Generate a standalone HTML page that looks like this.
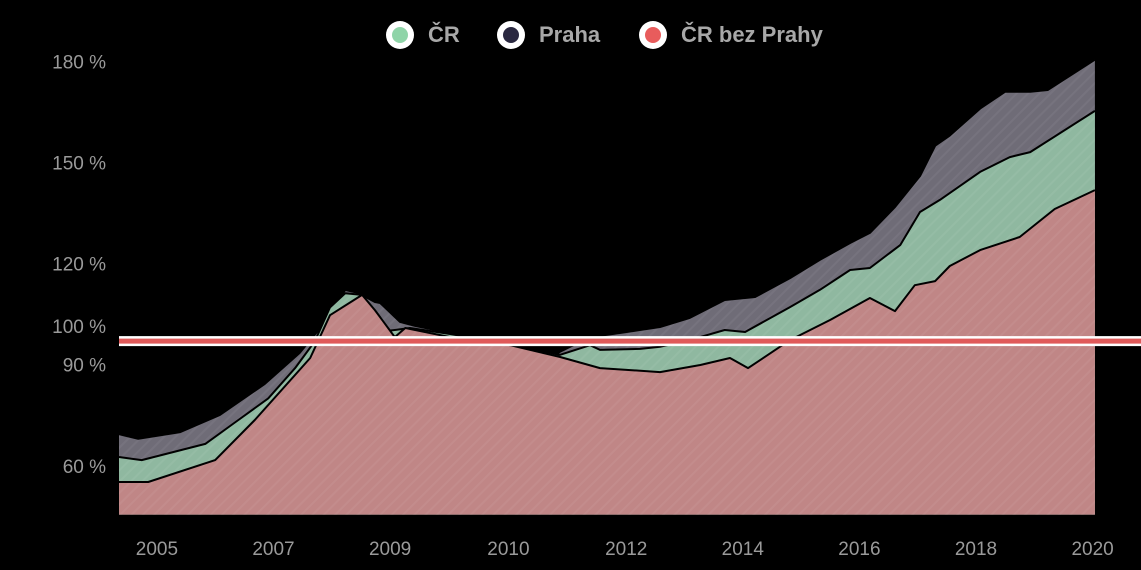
<!DOCTYPE html>
<html><head><meta charset="utf-8"><style>
body{margin:0;background:#000;width:1141px;height:570px;overflow:hidden;font-family:"Liberation Sans",sans-serif}
svg{display:block}
</style></head><body>
<svg id="chart" width="1141" height="570" viewBox="0 0 1141 570">
<defs>
<pattern id="stripes" width="8" height="8" patternUnits="userSpaceOnUse" patternTransform="rotate(45)">
<rect width="8" height="8" fill="transparent"/><rect width="2" height="8" fill="rgba(255,255,255,0.05)"/>
</pattern>
</defs>
<g id="yaxis"></g>
<g id="xaxis"></g>
<g id="areas"></g>
<g id="legend"></g>
</svg>
<script>
const prahaX=[0,0.33,1.05,1.73,2.5,3.1,3.41,3.88,4.1,4.39,4.48,4.82,5.08,5.59,6.11,7.05,7.48,7.56,8.08,8.59,9.28,9.79,10.39,10.91,11.51,12.02,12.54,12.88,13.31,13.74,14.0,14.25,14.77,15.2,15.63,15.93,16.74];
const prahaV=[69.4,68.0,70.0,75.1,84.3,93.5,100.0,112.2,111.3,108.6,108.3,102.7,101.5,99.7,97.9,94.5,92.5,93.8,98.2,99.4,101.2,103.9,109.2,110.1,115.7,121.1,126.1,129.1,136.8,146.0,155.0,158.0,166.0,171.0,171.0,171.5,180.5];
const crX=[0,0.39,1.48,2.0,2.56,3.02,3.36,3.62,3.88,4.17,4.43,4.73,4.99,5.68,6.71,7.56,8.08,8.25,8.94,9.28,9.79,10.39,10.74,11.51,12.02,12.54,12.88,13.4,13.74,14.08,14.77,15.28,15.63,16.74];
const crV=[62.6,61.7,66.5,73.0,80.0,89.0,97.0,107.0,111.2,110.7,99.7,100.3,100.9,99.1,96.1,92.9,95.8,94.4,94.7,95.3,97.3,100.3,99.7,107.1,112.2,118.1,118.7,125.5,135.3,138.9,147.2,151.6,153.1,165.3];
const restX=[0,0.5,1.65,2.33,3.28,3.62,4.17,4.39,4.73,4.91,5.68,6.71,7.56,8.25,9.28,9.97,10.48,10.79,11.51,12.2,12.88,13.31,13.65,14.0,14.25,14.77,15.45,16.05,16.74];
const restV=[55.2,55.2,61.7,73.6,92.0,104.7,110.7,106.2,98.2,100.9,98.2,95.8,92.3,89.0,87.8,89.9,92.0,89.0,97.3,103.3,109.8,105.9,113.6,114.8,119.3,124.0,127.9,136.2,141.8];
const yTicks=[60,90,100,120,150,180];
const xTickLabels=["2005","2007","2009","2010","2012","2014","2016","2018","2020"];
const xTickPos=[0.65,2.65,4.65,6.68,8.7,10.7,12.7,14.7,16.7];
const refValue=97;
const baseValue=45.5;

const NS="http://www.w3.org/2000/svg";
const X=u=>119+u*58.3;
const Y=v=>331-(v-100)*3.37;
function mk(t,a,p){const e=document.createElementNS(NS,t);for(const k in a)e.setAttribute(k,a[k]);p.appendChild(e);return e;}

const ya=document.getElementById('yaxis');
yTicks.forEach(v=>{const t=mk('text',{x:106,y:Y(v)+(v===100?2:7),'text-anchor':'end','font-size':19,fill:'#9a9a9a'},ya);


t.textContent=v+' %';});
const xa=document.getElementById('xaxis');
xTickLabels.forEach((l,i)=>{const t=mk('text',{x:X(xTickPos[i]),y:555,'text-anchor':'middle','font-size':19,fill:'#9a9a9a'},xa);


t.textContent=l;});

const ar=document.getElementById('areas');
function area(xs,vs,fill,name){
  let d='M'+X(xs[0])+','+Y(baseValue);
  xs.forEach((x,i)=>d+=' L'+X(x).toFixed(1)+','+Y(vs[i]).toFixed(1));
  d+=' L'+X(xs[xs.length-1])+','+Y(baseValue)+' Z';
  const p=mk('path',{d:d,fill:fill},ar);
  
  
  mk('path',{d:d,fill:'url(#stripes)'},ar);
  let l='M'+xs.map((x,i)=>X(x).toFixed(1)+','+Y(vs[i]).toFixed(1)).join(' L');
  const s=mk('path',{d:l,fill:'none',stroke:'#000','stroke-width':2,'stroke-linejoin':'round'},ar);
  
  
}
area(prahaX,prahaV,'#6f6c77','area-praha');
area(crX,crV,'#8fb8a0','area-cr');
area(restX,restV,'#c08686','area-cr-bez-prahy');
const ry=Y(refValue);
const rb=mk('rect',{x:119,y:ry-5,width:1022,height:10,fill:'#fff'},ar);


const rl=mk('rect',{x:119,y:ry-2.5,width:1022,height:5,fill:'#e05a5a'},ar);



const lg=document.getElementById('legend');
[['ČR','#8fd4a8',400],['Praha','#2a2840',511],['ČR bez Prahy','#e85c5c',653]].forEach(([n,c,x])=>{
  const g=mk('g',{},lg);
  
  
  mk('circle',{cx:x,cy:35,r:14,fill:'#fff'},g);
  mk('circle',{cx:x,cy:35,r:8,fill:c},g);
  const t=mk('text',{x:x+28,y:42,'font-size':22,'font-weight':'bold',fill:'#a8a8a8'},g);
  t.textContent=n;
});
</script>
</body></html>
